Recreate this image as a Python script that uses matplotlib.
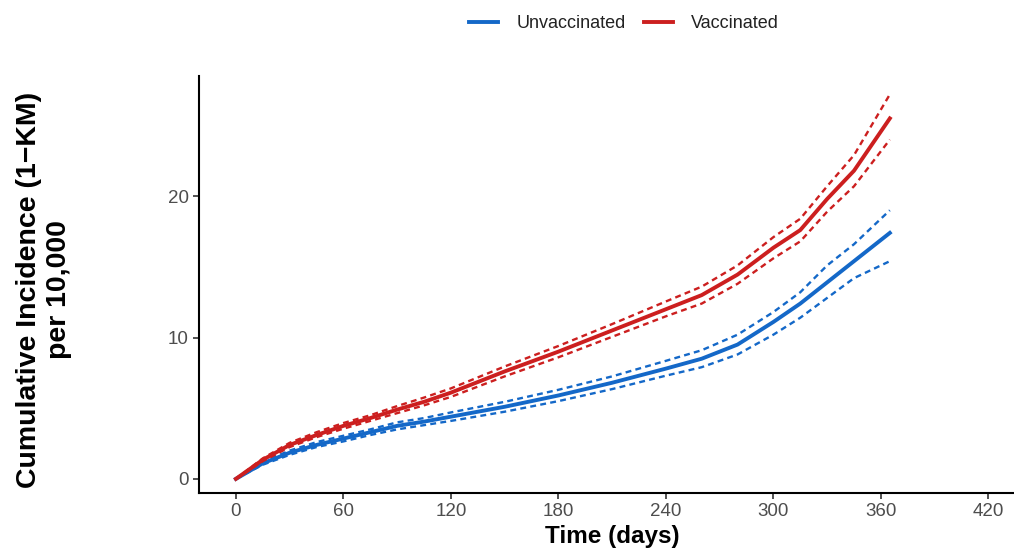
import matplotlib
matplotlib.use("Agg")
import matplotlib.pyplot as plt
from matplotlib.lines import Line2D

# Cumulative incidence (1-KM) per 10,000
days = [0, 15, 30, 45, 60, 75, 90, 105, 120, 150, 180, 210, 240, 260, 280, 300, 315, 330, 345, 365]

vacc = [0, 1.35, 2.4, 3.1, 3.75, 4.3, 4.9, 5.45, 6.1, 7.6, 9.0, 10.5, 12.0, 13.0, 14.45, 16.35, 17.6, 19.8, 21.8, 25.5]
vacc_lo = [0, 1.25, 2.25, 2.95, 3.55, 4.1, 4.65, 5.2, 5.8, 7.25, 8.6, 10.05, 11.5, 12.4, 13.8, 15.6, 16.8, 18.9, 20.7, 24.0]
vacc_hi = [0, 1.45, 2.55, 3.3, 3.95, 4.5, 5.15, 5.75, 6.4, 7.95, 9.4, 10.95, 12.55, 13.6, 15.1, 17.1, 18.4, 20.7, 22.9, 27.2]

unvacc = [0, 1.1, 1.85, 2.4, 2.85, 3.3, 3.75, 4.05, 4.4, 5.1, 5.9, 6.8, 7.8, 8.5, 9.5, 11.1, 12.4, 13.9, 15.4, 17.4]
unvacc_lo = [0, 1.0, 1.7, 2.25, 2.65, 3.1, 3.5, 3.8, 4.1, 4.75, 5.5, 6.35, 7.3, 7.9, 8.8, 10.2, 11.4, 12.8, 14.2, 15.4]
unvacc_hi = [0, 1.2, 2.0, 2.6, 3.05, 3.5, 4.0, 4.3, 4.7, 5.45, 6.3, 7.25, 8.35, 9.1, 10.2, 11.8, 13.2, 15.1, 16.6, 19.0]

x_ticks = [0, 60, 120, 180, 240, 300, 360, 420]
y_ticks = [0, 10, 20]

BLUE = "#1468c8"
RED = "#cc1f1f"

plt.rcParams["font.family"] = ["Liberation Sans", "DejaVu Sans"]

fig = plt.figure(figsize=(10.14, 5.57), dpi=100)
ax = fig.add_axes([199 / 1014, 64 / 557, 827 / 1014, 417 / 557])

for y, lo, hi, col in [(unvacc, unvacc_lo, unvacc_hi, BLUE), (vacc, vacc_lo, vacc_hi, RED)]:
    ax.plot(days, lo, color=col, lw=1.7, ls=(0, (2.5, 1.8)))
    ax.plot(days, hi, color=col, lw=1.7, ls=(0, (2.5, 1.8)))
    ax.plot(days, y, color=col, lw=2.8)

ax.set_xlim(-20.6, 441)
ax.set_ylim(-1.0, 28.5)
ax.set_xticks(x_ticks)
ax.set_yticks(y_ticks)
ax.tick_params(labelsize=13.5, labelcolor="#4d4d4d", length=4, width=1.2, color="#333333")

for s in ["top", "right"]:
    ax.spines[s].set_visible(False)
for s in ["left", "bottom"]:
    ax.spines[s].set_linewidth(1.5)

ax.set_xlabel("Time (days)", fontsize=17.5, fontweight="bold", labelpad=3)
fig.text(44 / 1014, 1 - 290 / 557, "Cumulative Incidence (1\u2212KM)\nper 10,000", rotation=90,
         ha="center", va="center", fontsize=20.5, fontweight="bold", linespacing=1.15)

handles = [Line2D([], [], color=BLUE, lw=2.8), Line2D([], [], color=RED, lw=2.8)]
fig.legend(handles, ["Unvaccinated", "Vaccinated"], loc="center", ncol=2,
           bbox_to_anchor=(624 / 1014, 1 - 24 / 557), frameon=False, fontsize=13,
           handlelength=1.6, handletextpad=1.0, columnspacing=1.0, labelcolor="#222222")

fig.savefig("out.png", dpi=100)
